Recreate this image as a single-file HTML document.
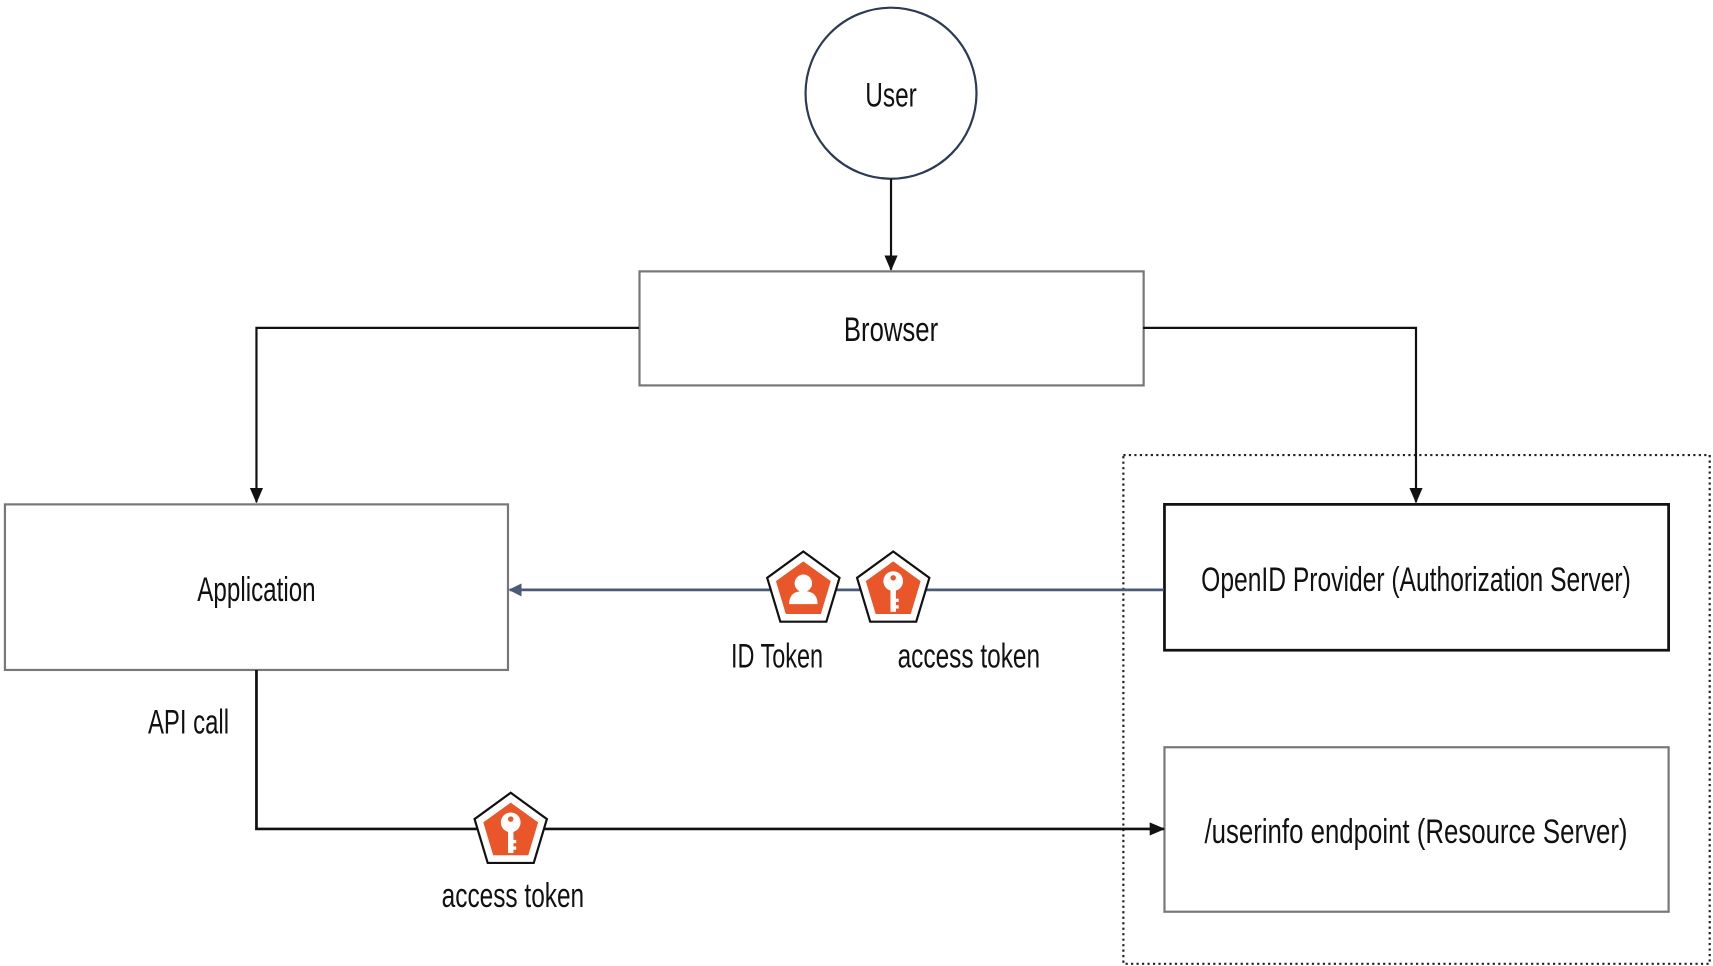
<!DOCTYPE html>
<html><head><meta charset="utf-8"><style>
html,body{margin:0;padding:0;background:#fff;width:1713px;height:966px;overflow:hidden}
svg{display:block}
text{font-family:"Liberation Sans Narrow","Liberation Sans",sans-serif;fill:#111;font-size:31px}
</style></head><body>
<svg width="1713" height="966" viewBox="0 0 1563 881" preserveAspectRatio="none" xmlns="http://www.w3.org/2000/svg">
<defs>
<marker id="ab2" markerWidth="14" markerHeight="12" refX="13" refY="6" orient="auto" markerUnits="userSpaceOnUse"><path d="M0,0 L14,6 L0,12 z" fill="#111"/></marker>
<marker id="abl" markerWidth="12" markerHeight="12" refX="11" refY="6" orient="auto" markerUnits="userSpaceOnUse"><path d="M0,0 L12,6 L0,12 z" fill="#4a5a78"/></marker>
<g id="pent"><polygon points="0,-35 33,-11 21,29 -21,29 -33,-11" fill="#fff" stroke="#111" stroke-width="2"/><polygon points="0,-26 25,-8 16,22 -16,22 -25,-8" fill="#e8562a"/></g>
<g id="key"><circle cx="0" cy="-8" r="9" fill="#fff"/><circle cx="0" cy="-11" r="2.5" fill="#e8562a"/><rect x="-2.5" y="-2" width="5" height="22" fill="#fff"/><rect x="0" y="8" width="5" height="3" fill="#fff"/><rect x="0" y="14" width="5" height="3" fill="#fff"/></g>
</defs>
<rect x="1025" y="415" width="535" height="464" fill="none" stroke="#222" stroke-width="2" stroke-dasharray="2,3"/>
<circle cx="813" cy="85" r="78" fill="#fff" stroke="#2d3a55" stroke-width="2"/>
<text x="813" y="97" text-anchor="middle" textLength="47" lengthAdjust="spacingAndGlyphs">User</text>
<line x1="813" y1="163" x2="813" y2="246" stroke="#111" stroke-width="2" marker-end="url(#ab2)"/>
<rect x="583.5" y="247.5" width="460" height="104" fill="#fff" stroke="#777" stroke-width="2"/>
<text x="813" y="311" text-anchor="middle" textLength="86" lengthAdjust="spacingAndGlyphs">Browser</text>
<polyline points="583,299 234,299 234,458" fill="none" stroke="#111" stroke-width="2" marker-end="url(#ab2)"/>
<polyline points="1043,299 1292,299 1292,458" fill="none" stroke="#111" stroke-width="2" marker-end="url(#ab2)"/>
<rect x="4.5" y="460" width="459" height="151" fill="#fff" stroke="#777" stroke-width="2"/>
<text x="234" y="548" text-anchor="middle" textLength="108" lengthAdjust="spacingAndGlyphs">Application</text>
<rect x="1062.5" y="460" width="460" height="133" fill="#fff" stroke="#111" stroke-width="2.5"/>
<text x="1292" y="539" text-anchor="middle" textLength="392" lengthAdjust="spacingAndGlyphs">OpenID Provider (Authorization Server)</text>
<rect x="1062.5" y="681.5" width="460" height="150" fill="#fff" stroke="#777" stroke-width="2"/>
<text x="1292" y="769" text-anchor="middle" textLength="386" lengthAdjust="spacingAndGlyphs">/userinfo endpoint (Resource Server)</text>
<line x1="1062" y1="538" x2="465" y2="538" stroke="#4a5a78" stroke-width="2.5" marker-end="url(#abl)"/>
<g transform="translate(733,538)"><use href="#pent"/><circle cx="0" cy="-6" r="8" fill="#fff"/><path d="M-13,13 Q-13,1 0,1 Q13,1 13,13 z" fill="#fff"/></g>
<g transform="translate(815,538)"><use href="#pent"/><use href="#key"/></g>
<text x="709" y="609" text-anchor="middle" textLength="84" lengthAdjust="spacingAndGlyphs">ID Token</text>
<text x="884" y="609" text-anchor="middle" textLength="130" lengthAdjust="spacingAndGlyphs">access token</text>
<text x="172" y="669" text-anchor="middle" textLength="74" lengthAdjust="spacingAndGlyphs">API call</text>
<polyline points="234,611 234,756 1062,756" fill="none" stroke="#111" stroke-width="2.5" marker-end="url(#ab2)"/>
<g transform="translate(466,758)"><use href="#pent"/><use href="#key"/></g>
<text x="468" y="827" text-anchor="middle" textLength="130" lengthAdjust="spacingAndGlyphs">access token</text>
</svg>
</body></html>
